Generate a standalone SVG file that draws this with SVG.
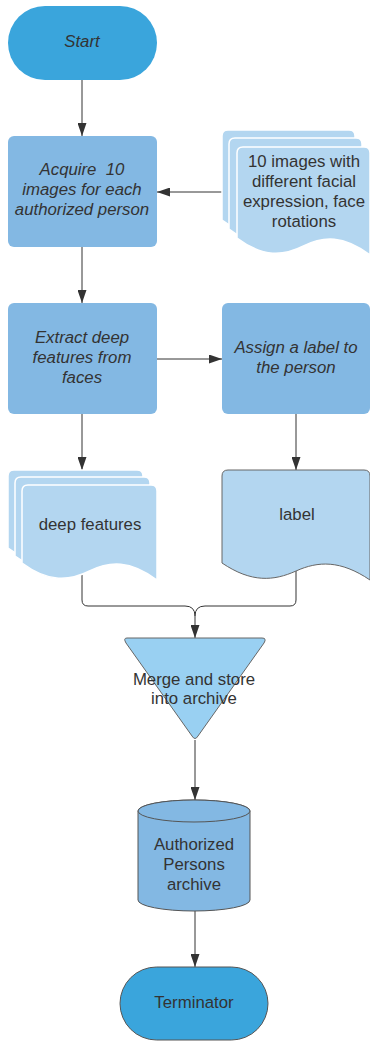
<svg xmlns="http://www.w3.org/2000/svg" width="370" height="1041" viewBox="0 0 370 1041">
<style>
.t{font-family:"Liberation Sans",Arial,sans-serif;font-size:16.8px;fill:#333;text-anchor:middle}
.i{font-style:italic}
.conn{fill:none;stroke:#333;stroke-width:1}
.proc{fill:#83b8e3}
.term{fill:#3aa5dc}
.sheet{fill:#b3d6f0;stroke:#fff;stroke-width:1.5}
</style>
<defs>
<marker id="ah" markerUnits="userSpaceOnUse" markerWidth="13" markerHeight="9" refX="13" refY="4.5" orient="auto">
<path d="M0,0 L13,4.5 L0,9 z" fill="#333"/>
</marker>
</defs>
<g id="connectors">
<path class="conn" d="M82,80 V136" marker-end="url(#ah)"/>
<path class="conn" d="M222,192 H157" marker-end="url(#ah)"/>
<path class="conn" d="M82,247 V303" marker-end="url(#ah)"/>
<path class="conn" d="M157,359 H222" marker-end="url(#ah)"/>
<path class="conn" d="M82,414 V470" marker-end="url(#ah)"/>
<path class="conn" d="M296,414 V470" marker-end="url(#ah)"/>
<path class="conn" d="M82,575 V600 Q82,606 88,606 H185 Q195,606 195,616 V638" marker-end="url(#ah)"/>
<path class="conn" d="M296,571 V600 Q296,606 290,606 H205 Q195,606 195,616"/>
<path class="conn" d="M195,740 V800" marker-end="url(#ah)"/>
<path class="conn" d="M195,911 V967" marker-end="url(#ah)"/>
</g>
<g id="start">
<rect class="term" x="8" y="6" width="149" height="74" rx="37"/>
<text class="t i" x="82" y="47">Start</text>
</g>
<g id="acquire">
<rect class="proc" x="8" y="136" width="149" height="111" rx="6"/>
<text class="t i" x="82" y="175">Acquire&#160; 10</text>
<text class="t i" x="82" y="195">images for each</text>
<text class="t i" x="82" y="215">authorized person</text>
</g>
<g id="images">
<path class="sheet" d="M222,220 V136 Q222,130 228,130 H349 Q355,130 355,136 V237 C328.4,217 308.45,218 288.5,228 C268.55,238 248.6,240 222,220 Z"/>
<path class="sheet" d="M229,229 V144 Q229,138 235,138 H356 Q362,138 362,144 V246 C335.4,226 315.45,227 295.5,237 C275.55,247 255.6,249 229,229 Z"/>
<path class="sheet" d="M237,238 V153 Q237,147 243,147 H364 Q370,147 370,153 V255 C343.4,235 323.45,236 303.5,246 C283.55,256 263.6,258 237,238 Z"/>
<text class="t" x="304" y="167">10 images with</text>
<text class="t" x="304" y="187">different facial</text>
<text class="t" x="304" y="207">expression, face</text>
<text class="t" x="304" y="227">rotations</text>
</g>
<g id="extract">
<rect class="proc" x="8" y="303" width="149" height="111" rx="6"/>
<text class="t i" x="82" y="343">Extract deep</text>
<text class="t i" x="82" y="363">features from</text>
<text class="t i" x="82" y="383">faces</text>
</g>
<g id="assign">
<rect class="proc" x="222" y="303" width="148" height="111" rx="6"/>
<text class="t i" x="296" y="353">Assign a label to</text>
<text class="t i" x="296" y="373">the person</text>
</g>
<g id="deepfeatures">
<path class="sheet" d="M8,548 V476 Q8,470 14,470 H137 Q143,470 143,476 V565 C116,545 95.75,546 75.5,556 C55.25,566 35,568 8,548 Z"/>
<path class="sheet" d="M15,556 V483 Q15,477 21,477 H144 Q150,477 150,483 V573 C123,553 102.75,554 82.5,564 C62.25,574 42,576 15,556 Z"/>
<path class="sheet" d="M22,563 V491 Q22,485 28,485 H151 Q157,485 157,491 V580 C130,560 109.75,561 89.5,571 C69.25,581 49,583 22,563 Z"/>
<text class="t" x="90" y="530">deep features</text>
</g>
<g id="label">
<path d="M222,563 V476 Q222,470 228,470 H364 Q370,470 370,476 V580 C340.4,560 318.2,561 296,571 C273.8,581 251.6,583 222,563 Z" fill="#b3d6f0" stroke="#666" stroke-width="1"/>
<text class="t" x="297" y="520">label</text>
</g>
<g id="merge">
<path d="M127,638 H262 Q267,638 264,643 L198,736 Q195,741 192,736 L126,643 Q123,638 127,638 Z" fill="#99d0f2" stroke="#666" stroke-width="1"/>
<text class="t" x="194" y="685">Merge and store</text>
<text class="t" x="194" y="704">into archive</text>
</g>
<g id="archive">
<path d="M138,811 V900 A56,11 0 0 0 250,900 V811 A56,11 0 0 0 138,811 Z" fill="#83b8e3" stroke="#555" stroke-width="1"/>
<ellipse cx="194" cy="811" rx="56" ry="11" fill="#83b8e3" stroke="#555" stroke-width="1"/>
<text class="t" x="194" y="850">Authorized</text>
<text class="t" x="194" y="870">Persons</text>
<text class="t" x="194" y="890">archive</text>
</g>
<g id="terminator">
<rect x="120" y="967" width="148" height="73" rx="36.5" fill="#3aa5dc" stroke="#555" stroke-width="1"/>
<text class="t" x="194" y="1008">Terminator</text>
</g>
</svg>
